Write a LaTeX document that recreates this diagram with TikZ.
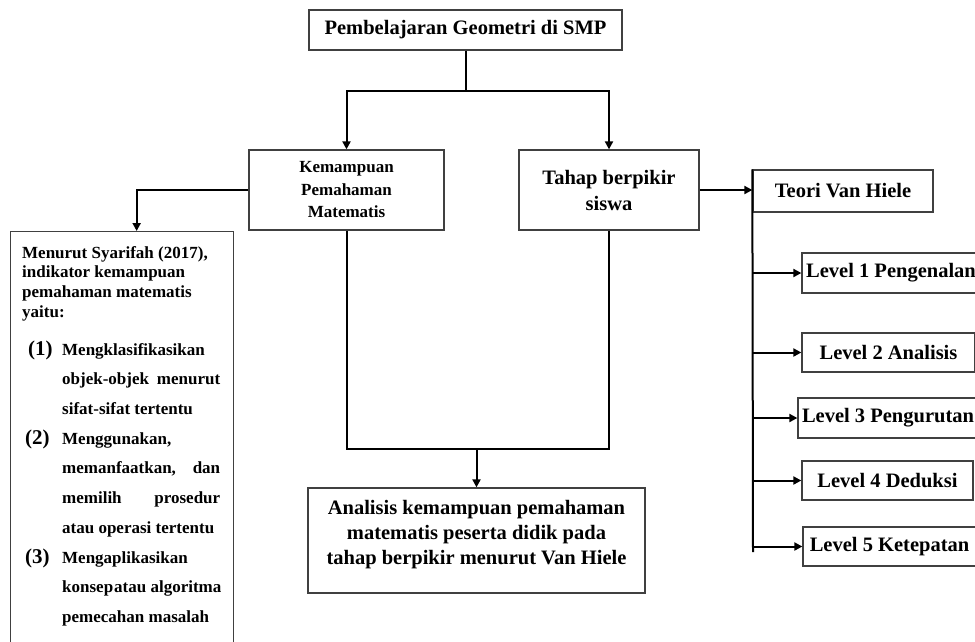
\documentclass[tikz,border=0pt]{standalone}
\usepackage{fontspec}
\setmainfont{Liberation Serif}
\usetikzlibrary{arrows.meta}
\begin{document}
\begin{tikzpicture}[x=1pt,y=-1pt,
  box/.style={draw=black!75, line width=1.3pt, fill=white, inner sep=0pt},
  big/.style={font=\bfseries\fontsize{20.5}{25}\selectfont},
  conn/.style={line width=2pt, black},
  arr/.style={conn, -{Triangle[length=8pt,width=8pt]}},
  txt/.style={inner sep=0pt, align=center}
]
\useasboundingbox (0,0) rectangle (975,641);
\clip (0,0) rectangle (975,641);

% main boxes
\node[box, big, minimum width=313pt, minimum height=40pt] (top) at (465.5,30) {Pembelajaran Geometri di SMP};
\node[box, align=center, minimum width=195pt, minimum height=80pt,
      font=\bfseries\fontsize{17}{22.5}\selectfont] (kem) at (346.5,190) {Kemampuan\\Pemahaman\\Matematis};
\node[box, big, align=center, minimum width=180pt, minimum height=80pt,
      font=\bfseries\fontsize{20.5}{26}\selectfont] (tah) at (609,190) {Tahap berpikir\\siswa};
\node[box, minimum width=337pt, minimum height=105pt] (ana) at (476.5,540.5) {};
\node[txt, font=\bfseries\fontsize{20.5}{25}\selectfont] (anatext) at (476.5,535)
  {Analisis kemampuan pemahaman\\matematis peserta didik pada\\tahap berpikir menurut Van Hiele};

% Van Hiele
\node[box, big, minimum width=180pt, minimum height=42pt] (teori) at (843,191) {Teori Van Hiele};
\node[box, big, minimum width=178pt, minimum height=40pt] (l1) at (891,273) {Level 1 Pengenalan};
\node[box, big, minimum width=173pt, minimum height=39pt] (l2) at (888.5,352.5) {Level 2 Analisis};
\node[box, big, minimum width=180pt, minimum height=40pt] (l3) at (888,418) {Level 3 Pengurutan};
\node[box, big, minimum width=171pt, minimum height=39pt] (l4) at (887.5,480.5) {Level 4 Deduksi};
\node[box, big, minimum width=173pt, minimum height=39pt] (l5) at (889.5,546.5) {Level 5 Ketepatan};

% left box
\node[box, anchor=north west, minimum width=223pt, minimum height=440pt] (lbox) at (10,231) {};
\node[anchor=base west, inner sep=0pt, font=\bfseries] (ltext) at (22,258) {%
\begin{minipage}[t]{205pt}
\fontsize{17}{19.7}\selectfont
Menurut Syarifah (2017),\\
indikator kemampuan\\
pemahaman matematis\\
yaitu:\par
\fontsize{17}{29.7}\selectfont
\vspace{8.3pt}
\hspace*{6pt}\makebox[34pt][l]{\fontsize{21}{21}\selectfont(1)}Mengklasifikasikan\\
\hspace*{40pt}\makebox[158pt][s]{objek-objek menurut}\\
\hspace*{40pt}sifat-sifat tertentu\\
\hspace*{3pt}\makebox[37pt][l]{\fontsize{21}{21}\selectfont(2)}Menggunakan,\\
\hspace*{40pt}\makebox[158pt][s]{memanfaatkan, dan}\\
\hspace*{40pt}\makebox[158pt][s]{memilih prosedur}\\
\hspace*{40pt}atau operasi tertentu\\
\hspace*{3pt}\makebox[37pt][l]{\fontsize{21}{21}\selectfont(3)}Mengaplikasikan\\
\hspace*{40pt}konsep\kern1pt atau algoritma\\
\hspace*{40pt}pemecahan masalah
\end{minipage}};

% connectors
\coordinate (j1) at (465.5,91);
\draw[conn] (top.south) -- (j1);
\draw[arr] (j1) -| (kem.north);
\draw[arr] (j1) -| (tah.north);
\draw[arr] (kem.west) -| ([xshift=14.5pt]lbox.north);
\coordinate (j2) at (476.5,449);
\draw[conn] (kem.south) |- (j2) -| (tah.south);
\draw[arr] (j2) -- (ana.north);
\draw[arr] (tah.east) -- (tah.east -| teori.west);
\coordinate (vb) at (753,552);
\draw[conn] (teori.north west) -- (vb);
\foreach \n in {l1,l2,l3,l4,l5}
  \draw[arr] (teori.west |- \n.west) -- (\n.west);
\end{tikzpicture}
\end{document}
